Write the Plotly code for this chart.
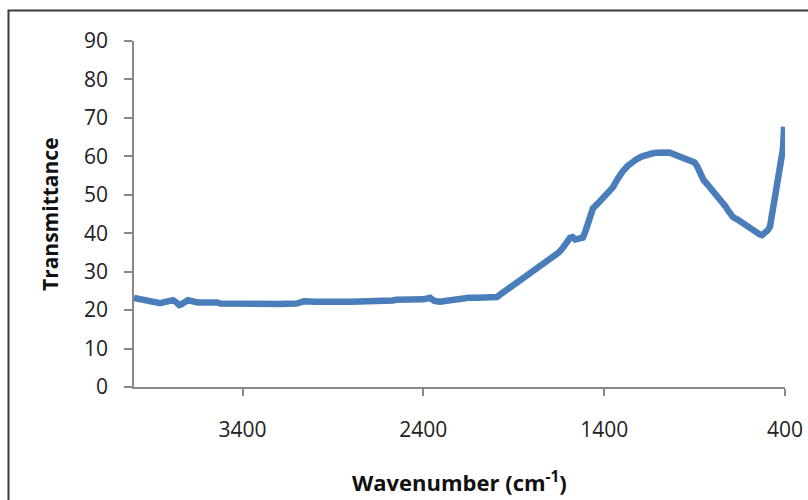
import plotly.graph_objects as go

wavenumber = [4000, 3950, 3912, 3880, 3856, 3820, 3784, 3765, 3750, 3738, 3720, 3701, 3650, 3600, 3541,
              3524, 3450, 3400, 3300, 3200, 3100, 3082, 3060, 3000, 2916, 2900, 2800, 2700, 2600, 2568,
              2550, 2450, 2400, 2363, 2340, 2308, 2250, 2197, 2150, 2100, 2050, 1993, 1970, 1940, 1910,
              1882, 1850, 1820, 1794, 1760, 1730, 1700, 1675, 1650, 1628, 1610, 1589, 1575, 1560, 1540,
              1517, 1500, 1480, 1462, 1440, 1410, 1380, 1351, 1330, 1310, 1296, 1270, 1250, 1219, 1190,
              1160, 1130, 1108, 1060, 1040, 1019, 990, 960, 920, 900, 887, 870, 850, 831, 800, 776, 750,
              730, 710, 688, 660, 632, 600, 580, 560, 540, 527, 510, 495, 483, 470, 455, 444, 430, 417,
              411, 405]
transmittance = [23.2, 22.8, 22.5, 22.0, 21.8, 22.2, 22.6, 22.0, 21.3, 21.5, 22.2, 22.6, 22.0, 22.1, 22.0,
                 21.7, 21.6, 21.6, 21.6, 21.6, 21.7, 21.9, 22.3, 22.2, 22.5, 22.2, 22.2, 22.2, 22.2, 22.5,
                 22.7, 22.7, 22.8, 23.2, 22.4, 22.2, 22.7, 23.0, 23.2, 23.2, 23.2, 23.4, 24.2, 25.2, 26.2,
                 27.1, 28.2, 29.2, 30.0, 31.0, 32.0, 33.1, 34.0, 35.0, 36.2, 37.5, 38.8, 39.0, 38.4, 38.6,
                 38.9, 41.0, 44.0, 46.5, 47.5, 49.0, 50.5, 52.0, 53.8, 55.3, 56.2, 57.5, 58.4, 59.3, 60.0,
                 60.5, 60.8, 60.9, 61.0, 61.0, 60.6, 60.1, 59.7, 59.1, 58.4, 57.5, 55.5, 53.8, 52.8, 51.2,
                 50.0, 48.3, 47.0, 45.6, 44.2, 43.5, 42.5, 41.4, 40.6, 40.0, 39.7, 39.5, 40.0, 40.8, 41.7,
                 45.5, 49.5, 54.7, 57.5, 60.5, 62.0, 67.7]

x_ticks = [3400, 2400, 1400, 400]
y_ticks = [0, 10, 20, 30, 40, 50, 60, 70, 80, 90]

fig = go.Figure()
fig.add_trace(go.Scatter(x=wavenumber, y=transmittance, mode="lines",
                         line=dict(color="#4a7ebb", width=6.5), showlegend=False))

font = "Open Sans, Noto Sans, sans-serif"
fig.update_layout(
    width=808, height=500,
    margin=dict(l=134, r=23, t=41, b=113),
    paper_bgcolor="white", plot_bgcolor="white",
    font=dict(family=font, size=21, color="#222"),
    xaxis=dict(range=[4000, 400], tickvals=x_ticks, ticktext=[str(v) for v in x_ticks],
               automargin=False,
               showgrid=False, zeroline=False, showline=True, linecolor="#888", linewidth=1.5,
               ticks="outside", ticklen=7, tickcolor="#888", tickwidth=1.5,
               ticklabelstandoff=16, tickfont=dict(size=21, color="#222")),
    yaxis=dict(range=[0, 90], tickvals=y_ticks, automargin=False,
               showgrid=False, zeroline=False, showline=True, linecolor="#888", linewidth=1.5,
               ticks="outside", ticklen=8, tickcolor="#888", tickwidth=1.5,
               ticklabelstandoff=12, tickfont=dict(size=21, color="#222")),
    annotations=[
        dict(text="<b>Transmittance</b>", xref="paper", yref="paper", x=-0.129, y=0.5,
             textangle=-90, showarrow=False, font=dict(size=21, color="#111"),
             xanchor="center", yanchor="middle"),
        dict(text="<b>Wavenumber (cm<sup>-1</sup>)</b>", xref="paper", yref="paper", x=0.5, y=-0.272,
             showarrow=False, font=dict(size=22, color="#111"), xanchor="center", yanchor="middle"),
    ],
    shapes=[dict(type="rect", xref="paper", yref="paper", x0=-0.1928, x1=1.2, y0=-0.6, y1=1.088,
                 line=dict(color="#3a3a3a", width=2))],
)

fig.write_html("out.html")
